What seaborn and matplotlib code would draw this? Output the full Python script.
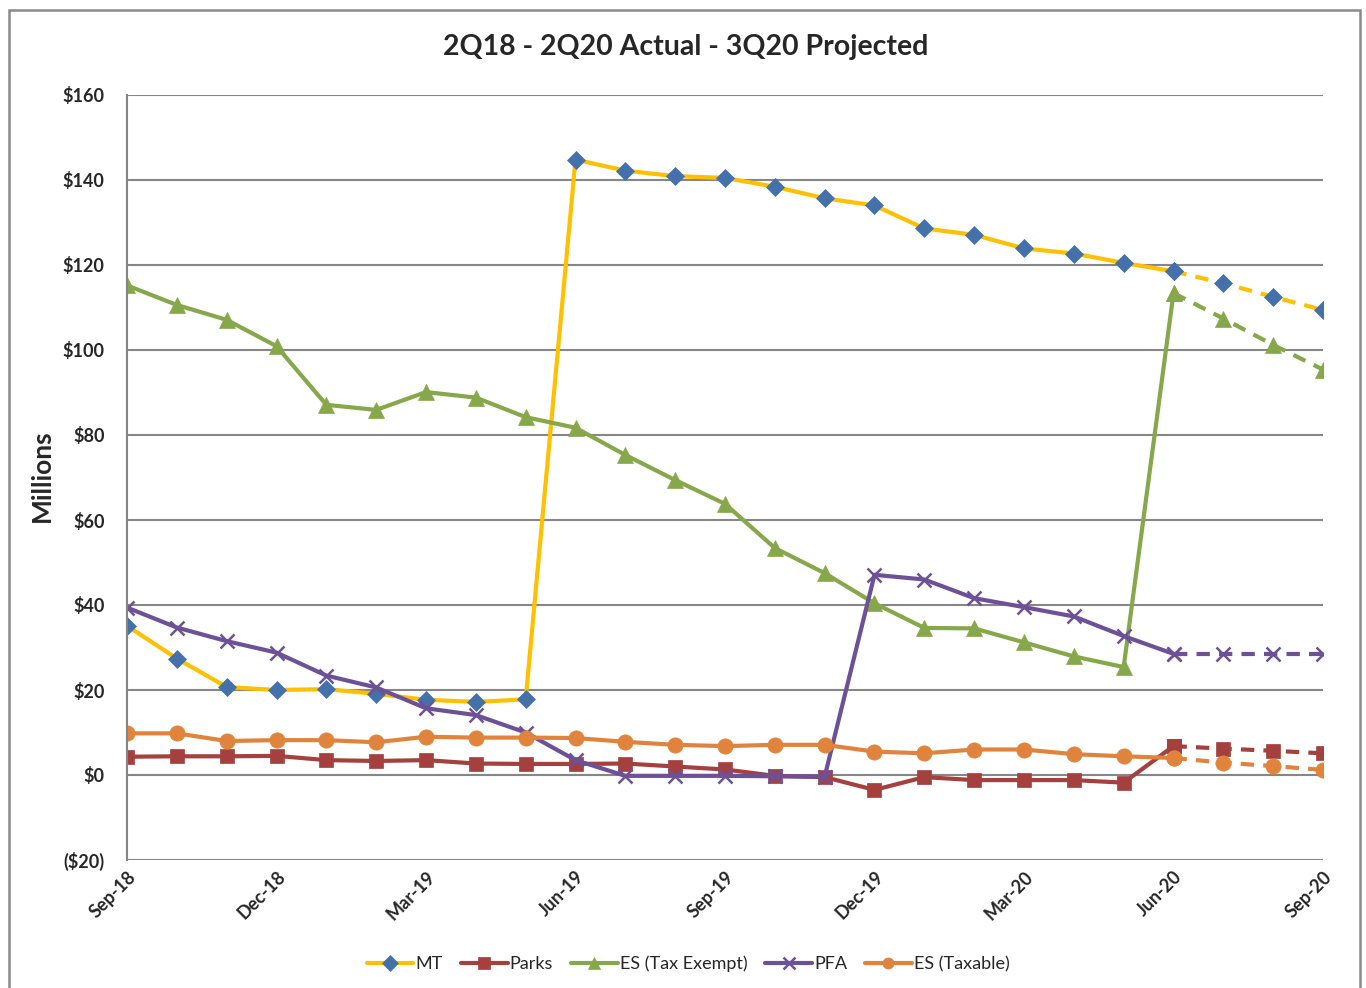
import matplotlib
matplotlib.use("Agg")
import matplotlib.pyplot as plt
from matplotlib.patches import Rectangle
import seaborn as sns
import pandas as pd
import numpy as np

# ---- data ----
months = ["Sep-18", "Oct-18", "Nov-18", "Dec-18", "Jan-19", "Feb-19", "Mar-19", "Apr-19",
          "May-19", "Jun-19", "Jul-19", "Aug-19", "Sep-19", "Oct-19", "Nov-19", "Dec-19",
          "Jan-20", "Feb-20", "Mar-20", "Apr-20", "May-20", "Jun-20", "Jul-20", "Aug-20", "Sep-20"]
tick_labels = ["Sep-18", "Dec-18", "Mar-19", "Jun-19", "Sep-19", "Dec-19", "Mar-20", "Jun-20", "Sep-20"]

mt = [35.1, 27.4, 20.7, 20.0, 20.2, 19.1, 17.7, 17.2, 17.8, 144.8, 142.2, 140.9, 140.5, 138.4,
      135.7, 134.0, 128.6, 127.1, 123.9, 122.7, 120.5, 118.5, 115.7, 112.5, 109.4]
parks = [4.3, 4.4, 4.4, 4.5, 3.5, 3.3, 3.5, 2.7, 2.6, 2.6, 2.7, 2.0, 1.3, -0.2, -0.5, -3.5,
         -0.5, -1.2, -1.2, -1.2, -1.8, 6.8, 6.2, 5.7, 5.1]
es_exempt = [115.2, 110.6, 107.1, 100.9, 87.1, 85.9, 90.1, 88.8, 84.2, 81.7, 75.3, 69.4, 63.8,
             53.4, 47.5, 40.4, 34.6, 34.5, 31.2, 27.9, 25.4, 113.4, 107.4, 101.2, 95.4]
pfa = [39.4, 34.7, 31.5, 28.8, 23.4, 20.6, 15.7, 14.1, 10.0, 3.5, -0.2, -0.2, -0.2, -0.3, -0.4,
       47.1, 46.0, 41.6, 39.5, 37.3, 32.7, 28.5, 28.5, 28.5, 28.5]
es_taxable = [9.8, 9.8, 8.0, 8.2, 8.2, 7.7, 9.0, 8.8, 8.8, 8.7, 7.8, 7.1, 6.8, 7.1, 7.1, 5.5,
              5.1, 6.0, 6.0, 4.9, 4.4, 4.0, 2.9, 2.1, 1.2]
series_names = ["MT", "Parks", "ES (Tax Exempt)", "PFA", "ES (Taxable)"]
last_actual = 21  # Jun-20 is last actual value

# ---- styles ----
styles = {
    "MT": dict(color="#FFC000", marker="D", mfc="#4471A9", mec="#4471A9", ms=9.5),
    "Parks": dict(color="#A4403D", marker="s", mfc="#A4403D", mec="#A4403D", ms=10.5),
    "ES (Tax Exempt)": dict(color="#86A84A", marker="^", mfc="#86A84A", mec="#86A84A", ms=11),
    "PFA": dict(color="#6D5196", marker="x", mfc="#6D5196", mec="#6D5196", ms=10, mew=1.8),
    "ES (Taxable)": dict(color="#E0843D", marker="o", mfc="#E0843D", mec="#E0843D", ms=11),
}
values = {"MT": mt, "Parks": parks, "ES (Tax Exempt)": es_exempt, "PFA": pfa,
          "ES (Taxable)": es_taxable}

sns.set_theme(style="white")
plt.rcParams["font.family"] = ["Lato", "DejaVu Sans"]

fig = plt.figure(figsize=(13.66, 9.88), dpi=100)
ax = fig.add_axes([127 / 1366, 1 - 860 / 988, (1323 - 127) / 1366, (860 - 95) / 988])

idx = np.arange(len(months))
handles = []
lw = 3.0
for name in series_names:
    st = styles[name]
    df = pd.DataFrame({"x": idx, "y": values[name]})
    act = df[df.x <= last_actual]
    proj = df[df.x >= last_actual]
    kw = dict(marker=st["marker"], markersize=st["ms"], markerfacecolor=st["mfc"],
              markeredgecolor=st["mec"], markeredgewidth=st.get("mew", 0.5))
    sns.lineplot(data=proj, x="x", y="y", ax=ax, color=st["color"], linewidth=lw,
                 linestyle=(0, (3.2, 2.2)), **kw)
    sns.lineplot(data=act, x="x", y="y", ax=ax, color=st["color"], linewidth=lw, **kw)
    handles.append(ax.lines[-1])

ax.set_xlim(0, len(months) - 1)
ax.set_ylim(-20, 160)
ax.set_yticks(np.arange(-20, 161, 20))
ax.set_yticklabels([("($%d)" % -v) if v < 0 else ("$%d" % v) for v in range(-20, 161, 20)],
                   fontsize=13, fontweight="bold")
tick_pos = [months.index(t) for t in tick_labels]
ax.set_xticks(tick_pos)
ax.set_xticklabels(tick_labels, rotation=45, ha="right", va="top", rotation_mode="anchor",
                   fontsize=13, fontweight="bold")
ax.tick_params(axis="y", length=0, pad=16)
ax.tick_params(axis="x", length=0, pad=6)
ax.grid(axis="y", color="#868686", linewidth=1.5)
ax.set_axisbelow(True)
for s in ["top", "right", "bottom"]:
    ax.spines[s].set_visible(False)
ax.spines["left"].set_color("#868686")
ax.spines["left"].set_linewidth(1.5)
ax.set_xlabel("")
ax.set_ylabel("")

fig.text(42 / 1366, 1 - 476 / 988, "Millions", rotation=90, ha="center", va="center",
         fontsize=19, fontweight="bold")
fig.text(686 / 1366, 1 - 47 / 988, "2Q18 - 2Q20 Actual - 3Q20 Projected", ha="center",
         va="center", fontsize=20.5, fontweight="bold")

leg = fig.legend(handles, series_names, loc="center", bbox_to_anchor=(688 / 1366, 1 - 964 / 988),
                 ncol=5, frameon=False, fontsize=13, handlelength=2.6, columnspacing=1.0,
                 handletextpad=0.1)
for h in leg.legend_handles:
    h.set_markersize(8)

fig.patches.append(Rectangle((9 / 1366, -0.01), (1360 - 9) / 1366, 1.0 - 10 / 988 + 0.01,
                             transform=fig.transFigure, fill=False, edgecolor="#8a8a8a",
                             linewidth=1.8))

fig.savefig("out.png", dpi=100)
